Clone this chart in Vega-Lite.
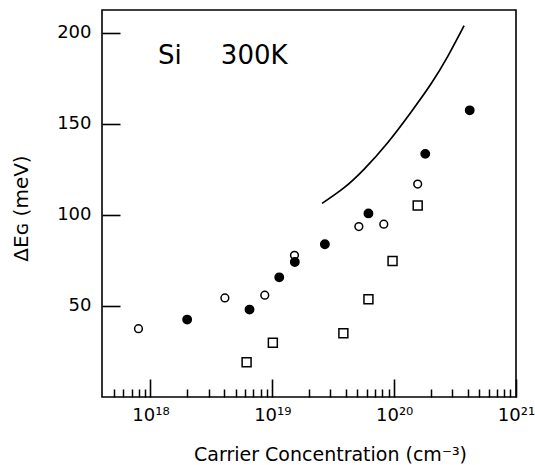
{
  "$schema": "https://vega.github.io/schema/vega-lite/v6.json",
  "width": 414,
  "height": 387,
  "autosize": {"type": "none"},
  "padding": {"left": 102, "top": 10, "right": 19, "bottom": 68},
  "background": "white",
  "config": {
    "view": {"stroke": "black", "strokeWidth": 1.6},
    "font": "DejaVu Sans",
    "axis": {
      "domain": false,
      "grid": false,
      "tickColor": "black",
      "labelColor": "black",
      "titleColor": "black",
      "titleFontWeight": "normal",
      "labelFont": "DejaVu Sans",
      "titleFont": "DejaVu Sans"
    }
  },
  "datasets": {
    "curve": [
      {"n": 2.559e19, "dE": 106.3},
      {"n": 3.864e19, "dE": 114.8},
      {"n": 5.649e19, "dE": 125.0},
      {"n": 8.81e19, "dE": 139.5},
      {"n": 1.374e20, "dE": 156.4},
      {"n": 2.009e20, "dE": 172.0},
      {"n": 2.761e20, "dE": 187.2},
      {"n": 3.75e20, "dE": 203.9}
    ],
    "points": [
      {"n": 7.97e17, "dE": 37.5, "type": "open"},
      {"n": 4.08e18, "dE": 54.4, "type": "open"},
      {"n": 8.67e18, "dE": 55.9, "type": "open"},
      {"n": 1.52e19, "dE": 77.8, "type": "open"},
      {"n": 5.13e19, "dE": 93.6, "type": "open"},
      {"n": 8.22e19, "dE": 94.9, "type": "open"},
      {"n": 1.56e20, "dE": 116.9, "type": "open"},
      {"n": 6.15e18, "dE": 19.1, "type": "square"},
      {"n": 1.01e19, "dE": 29.8, "type": "square"},
      {"n": 3.83e19, "dE": 35.0, "type": "square"},
      {"n": 6.15e19, "dE": 53.7, "type": "square"},
      {"n": 9.7e19, "dE": 74.7, "type": "square"},
      {"n": 1.56e20, "dE": 105.2, "type": "square"},
      {"n": 2.0e18, "dE": 42.5, "type": "filled"},
      {"n": 6.5e18, "dE": 48.0, "type": "filled"},
      {"n": 1.14e19, "dE": 65.7, "type": "filled"},
      {"n": 1.53e19, "dE": 74.1, "type": "filled"},
      {"n": 2.7e19, "dE": 83.9, "type": "filled"},
      {"n": 6.15e19, "dE": 100.8, "type": "filled"},
      {"n": 1.8e20, "dE": 133.5, "type": "filled"},
      {"n": 4.17e20, "dE": 157.4, "type": "filled"}
    ],
    "labels": [
      {"n": 1.44e18, "dE": 183, "label": "Si"},
      {"n": 7.1e18, "dE": 183, "label": "300K"}
    ]
  },
  "encoding": {
    "y": {
      "field": "dE", "type": "quantitative",
      "scale": {"domain": [0, 212.5], "nice": false, "zero": false},
      "axis": {
        "values": [50, 100, 150, 200],
        "tickSize": -18,
        "tickWidth": 1.6,
        "labelFontSize": 18,
        "labelPadding": 29,
        "title": "ΔEɢ (meV)",
        "titleFontSize": 20,
        "titleX": -81,
        "titleY": 198,
        "titleBaseline": "middle",
        "titleAlign": "center"
      }
    }
  },
  "layer": [
    {
      "data": {"name": "curve"},
      "mark": {"type": "line", "color": "black", "strokeWidth": 1.7, "interpolate": "natural"},
      "encoding": {
        "x": {
          "field": "n", "type": "quantitative",
          "scale": {"type": "log", "domain": [4e17, 1e21], "nice": false},
          "axis": {
            "orient": "bottom",
            "values": [1e18, 1e19, 1e20, 1e21],
            "tickSize": -18,
            "tickWidth": 1.6,
            "labelExpr": "datum.value == 1e18 ? '10¹⁸' : datum.value == 1e19 ? '10¹⁹' : datum.value == 1e20 ? '10²⁰' : '10²¹'",
            "labelFontSize": 18,
            "labelBaseline": "alphabetic",
            "labelPadding": 41,
            "labelFlush": false,
            "labelOverlap": false,
            "title": "Carrier Concentration (cm⁻³)",
            "titleFontSize": 19,
            "titleX": 228,
            "titleY": 63,
            "titleBaseline": "alphabetic",
            "titleAlign": "center"
          }
        }
      }
    },
    {
      "data": {"name": "points"},
      "mark": {"type": "point", "filled": true, "stroke": "black", "strokeWidth": 1.5, "opacity": 1},
      "encoding": {
        "x": {
          "field": "n", "type": "quantitative",
          "axis": {
            "orient": "bottom",
            "values": [5e17, 6e17, 7e17, 8e17, 9e17, 2e18, 3e18, 4e18, 5e18, 6e18, 7e18, 8e18, 9e18, 2e19, 3e19, 4e19, 5e19, 6e19, 7e19, 8e19, 9e19, 2e20, 3e20, 4e20, 5e20, 6e20, 7e20, 8e20, 9e20],
            "tickSize": -8,
            "tickWidth": 1.5,
            "labels": false,
            "title": null
          }
        },
        "shape": {"field": "type", "type": "nominal", "scale": {"domain": ["open", "filled", "square"], "range": ["circle", "circle", "square"]}, "legend": null},
        "fill": {"field": "type", "type": "nominal", "scale": {"domain": ["open", "filled", "square"], "range": ["white", "black", "white"]}, "legend": null},
        "size": {"field": "type", "type": "nominal", "scale": {"domain": ["open", "filled", "square"], "range": [60, 80, 60]}, "legend": null}
      }
    },
    {
      "data": {"name": "labels"},
      "mark": {"type": "text", "fontSize": 26, "baseline": "alphabetic", "align": "center", "color": "black", "font": "DejaVu Sans"},
      "encoding": {
        "x": {"field": "n", "type": "quantitative", "axis": null},
        "text": {"field": "label"}
      }
    }
  ],
  "resolve": {"axis": {"x": "independent"}}
}
